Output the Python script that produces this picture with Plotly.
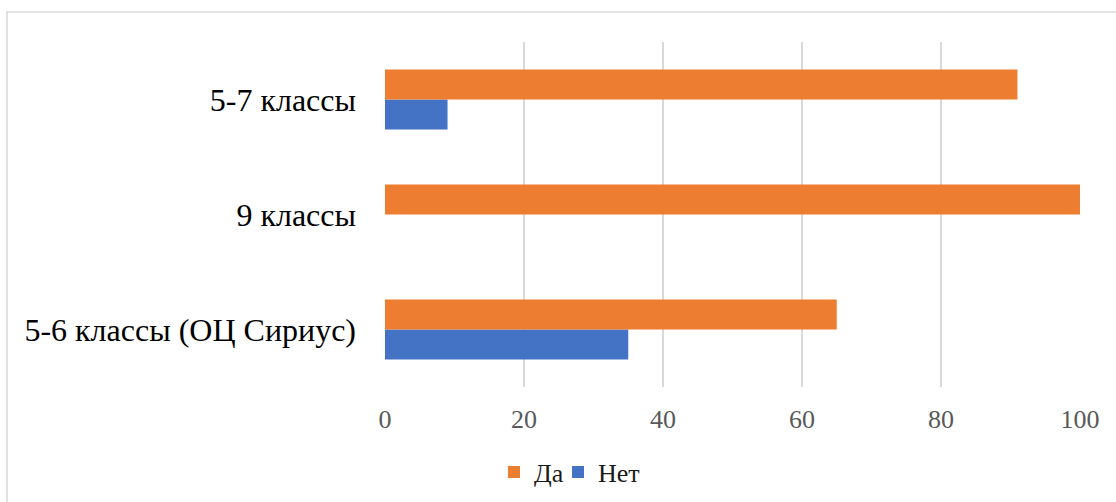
import plotly.graph_objects as go

# Survey share (%) of pupils by class group
categories = ["5-6 классы (ОЦ Сириус)", "9 классы", "5-7 классы"]
yes_values = [65, 100, 91]
no_values = [35, 0, 9]
x_ticks = [0, 20, 40, 60, 80, 100]

W, H = 1116, 502
L, R, T, B = 385, 36, 42, 115
pw, ph = W - L - R, H - T - B

SERIF = "Liberation Serif"
LEGEND_FONT = dict(family=SERIF, size=26, color="#1a1a1a")
legend_y = -(472 - (H - B)) / ph

fig = go.Figure()
fig.add_trace(go.Bar(
    name="Нет", y=categories, x=no_values, orientation="h",
    marker=dict(color="#4472C4", line=dict(width=0)),
    legend="legend2",
))
fig.add_trace(go.Bar(
    name="Да", y=categories, x=yes_values, orientation="h",
    marker=dict(color="#ED7D31", line=dict(width=0)),
    legend="legend",
))

# outer chart-area frame
fig.add_shape(
    type="rect", xref="paper", yref="paper",
    x0=(7 - L) / pw, x1=(W + 10 - L) / pw,
    y0=(H - B - (H + 10)) / ph, y1=(H - B - 12) / ph,
    line=dict(color="#d9d9d9", width=1.5), fillcolor="rgba(0,0,0,0)",
    layer="below",
)

fig.update_layout(
    width=W, height=H,
    margin=dict(l=L, r=R, t=T, b=B, pad=0, autoexpand=False),
    paper_bgcolor="white", plot_bgcolor="white",
    barmode="group", bargap=0.48, bargroupgap=0,
    font=dict(family=SERIF, color="#000000"),
    showlegend=True,
    legend=dict(
        orientation="h",
        x=(494 - L) / pw, xanchor="left",
        y=legend_y, yanchor="middle",
        font=LEGEND_FONT, bgcolor="rgba(0,0,0,0)",
    ),
    legend2=dict(
        orientation="h",
        x=(558 - L) / pw, xanchor="left",
        y=legend_y, yanchor="middle",
        font=LEGEND_FONT, bgcolor="rgba(0,0,0,0)",
    ),
    xaxis=dict(
        range=[0, 100], tickvals=x_ticks, ticktext=[str(v) for v in x_ticks],
        showgrid=True, gridcolor="#d9d9d9", gridwidth=1.5,
        zeroline=False, showline=False, ticks="",
        tickfont=dict(family=SERIF, size=26, color="#595959"),
        ticklabelstandoff=14, fixedrange=True, automargin=False,
    ),
    yaxis=dict(
        type="category", categoryorder="array", categoryarray=categories,
        showgrid=False, zeroline=False, showline=False, ticks="",
        tickfont=dict(family=SERIF, size=32, color="#000000"),
        ticklabelstandoff=28, fixedrange=True, automargin=False,
    ),
)

fig.write_html("out.html")
